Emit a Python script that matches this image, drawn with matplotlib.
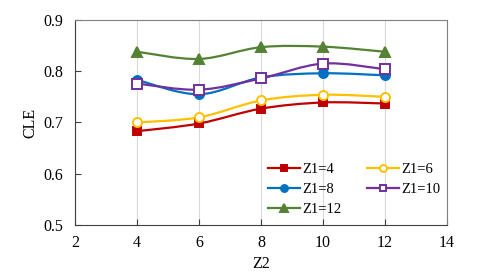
import matplotlib
matplotlib.use('Agg')
import matplotlib.pyplot as plt
from matplotlib.path import Path
from matplotlib.patches import PathPatch
from matplotlib.lines import Line2D

# data
z2 = [4, 6, 8, 10, 12]
cle_z1_4 = [0.683, 0.698, 0.727, 0.739, 0.737]
cle_z1_6 = [0.700, 0.710, 0.743, 0.754, 0.750]
cle_z1_8 = [0.783, 0.755, 0.788, 0.796, 0.792]
cle_z1_10 = [0.776, 0.764, 0.786, 0.815, 0.804]
cle_z1_12 = [0.838, 0.824, 0.847, 0.848, 0.838]
labels = ['Z1=4', 'Z1=6', 'Z1=8', 'Z1=10', 'Z1=12']

plt.rcParams['font.family'] = ['Liberation Serif', 'DejaVu Serif']
plt.rcParams['font.size'] = 11.5


def smooth_path(x, y):
    # excel-like smoothed line, cubic bezier through the points
    pts = list(zip(x, y))
    verts = [pts[0]]
    codes = [Path.MOVETO]
    n = len(pts)
    for i in range(n - 1):
        p0 = pts[i - 1] if i > 0 else pts[i]
        p1 = pts[i]
        p2 = pts[i + 1]
        p3 = pts[i + 2] if i + 2 < n else pts[i + 1]
        c1 = (p1[0] + (p2[0] - p0[0]) / 6, p1[1] + (p2[1] - p0[1]) / 6)
        c2 = (p2[0] - (p3[0] - p1[0]) / 6, p2[1] - (p3[1] - p1[1]) / 6)
        verts += [c1, c2, p2]
        codes += [Path.CURVE4] * 3
    return Path(verts, codes)


fig = plt.figure(figsize=(4.89, 2.78), dpi=100)
ax = fig.add_axes([0.154, 0.191, 0.76, 0.737])

series = [
    (cle_z1_4, '#C00000', 's', '#C00000', 6),
    (cle_z1_6, '#FFC000', 'o', 'white', 6.5),
    (cle_z1_8, '#0070C0', 'o', '#0070C0', 6.5),
    (cle_z1_10, '#7030A0', 's', 'white', 6.5),
    (cle_z1_12, '#548235', '^', '#548235', 7.5),
]

handles = []
for (vals, col, mk, fc, ms), lab in zip(series, labels):
    ax.add_patch(PathPatch(smooth_path(z2, vals), facecolor='none',
                           edgecolor=col, lw=1.6, zorder=3))
    ax.plot(z2, vals, linestyle='none', marker=mk, markersize=ms,
            markerfacecolor=fc, markeredgecolor=col, markeredgewidth=1.4,
            zorder=4)
    handles.append(Line2D([], [], color=col, lw=1.6, marker=mk,
                          markersize=ms - 1.5, markerfacecolor=fc,
                          markeredgecolor=col, markeredgewidth=1.4,
                          label=lab))

# row-wise legend order: 4, 6 / 8, 10 / 12
order = [0, 2, 4, 1, 3]
handles = [handles[i] for i in order]

ax.set_xlim(2, 14)
ax.set_ylim(0.5, 0.9)
ax.set_xticks([2, 4, 6, 8, 10, 12, 14])
ax.set_yticks([0.5, 0.6, 0.7, 0.8, 0.9])
ax.set_yticklabels(['0.5', '0.6', '0.7', '0.8', '0.9'])
ax.tick_params(axis='y', direction='in', length=4, color='#404040', pad=9)
ax.tick_params(axis='x', direction='in', length=4, color='#404040', pad=7)
ax.grid(axis='x', color='#D9D9D9', lw=0.8)
ax.set_axisbelow(True)
for s in ['left', 'bottom']:
    ax.spines[s].set_color('#404040')
for s in ['top', 'right']:
    ax.spines[s].set_color('#808080')

ax.set_xlabel('Z2', labelpad=4)
ax.set_ylabel('CLE', labelpad=3)

ax.legend(handles=handles, ncol=2, loc='upper left',
          bbox_to_anchor=(0.502, 0.33), frameon=False, handlelength=2.2,
          handletextpad=0.15, columnspacing=1.8, labelspacing=0.45,
          borderaxespad=0, fontsize=10.5)

fig.savefig('out.png', dpi=100)
